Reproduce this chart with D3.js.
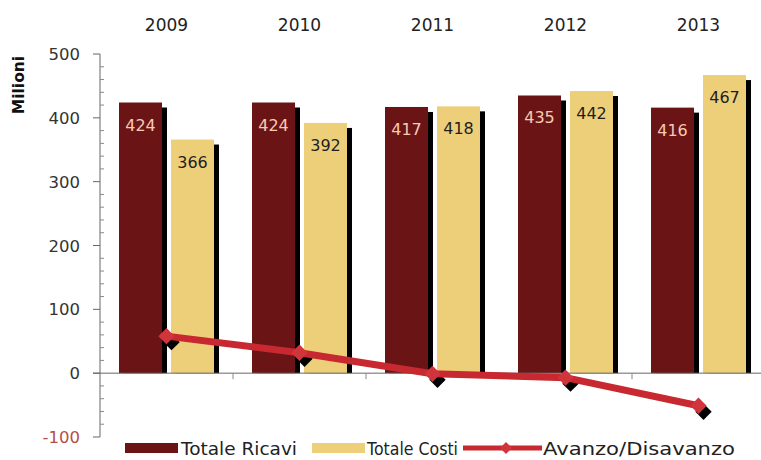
<!DOCTYPE html>
<html>
<head>
<meta charset="utf-8">
<script src="https://cdn.jsdelivr.net/npm/d3@7"></script>
<style>
  html, body { margin: 0; padding: 0; background: #fff; }
  svg { display: block; font-family: "DejaVu Sans", sans-serif; }
</style>
</head>
<body>
<svg id="chart" width="761" height="460"></svg>
<script>
// Revenue, costs and surplus/deficit per year (millions)
const years = ["2009", "2010", "2011", "2012", "2013"];
const ricavi = [424, 424, 417, 435, 416];
const costi = [366, 392, 418, 442, 467];
const avanzo = [58, 32, -1, -7, -51];
const yTicks = [-100, 0, 100, 200, 300, 400, 500];
const seriesNames = ["Totale Ricavi", "Totale Costi"];

const colRicavi = "#6b1416";
const colCosti = "#eecf79";
const colLine = "#c8282f";
const colMarker = "#d2343b";

const svg = d3.select("#chart");

const x0 = d3.scaleBand().domain(years).range([100, 765]);
const x1 = d3.scaleBand().domain(seriesNames).range([19, 114]).paddingInner(9 / 52);
const y = d3.scaleLinear().domain([-100, 500]).range([437, 54]);

// Y axis: major ticks to the left, minor ticks to the right
const axisG = svg.append("g");
axisG.append("line")
  .attr("x1", 100).attr("x2", 100)
  .attr("y1", y(500)).attr("y2", y(-100))
  .attr("stroke", "#666").attr("stroke-width", 1);
axisG.selectAll("line.major").data(yTicks).enter().append("line")
  .attr("class", "major")
  .attr("x1", 93).attr("x2", 100)
  .attr("y1", d => y(d)).attr("y2", d => y(d))
  .attr("stroke", "#666");
const minor = d3.range(-100, 501, 20).filter(v => v % 100 !== 0);
axisG.selectAll("line.minor").data(minor).enter().append("line")
  .attr("class", "minor")
  .attr("x1", 100).attr("x2", 104)
  .attr("y1", d => y(d)).attr("y2", d => y(d))
  .attr("stroke", "#888");
axisG.selectAll("text.tick").data(yTicks).enter().append("text")
  .attr("class", "tick")
  .attr("x", 80).attr("y", d => y(d) + 6)
  .attr("text-anchor", "end")
  .attr("font-size", 16.5)
  .attr("fill", d => d < 0 ? "#b4504a" : "#333")
  .text(d => d);

svg.append("text")
  .attr("transform", "translate(24,85) rotate(-90)")
  .attr("text-anchor", "middle")
  .attr("font-size", 15.5)
  .attr("font-weight", "bold")
  .attr("fill", "#111")
  .text("Milioni");

// Year labels above each group
svg.selectAll("text.year").data(years).enter().append("text")
  .attr("class", "year")
  .attr("x", d => x0(d) + x0.bandwidth() / 2)
  .attr("y", 31)
  .attr("text-anchor", "middle")
  .attr("font-size", 17)
  .attr("fill", "#222")
  .text(d => d);

// Bars with drop shadows
const rows = [];
years.forEach((yr, i) => {
  rows.push({ year: yr, s: seriesNames[0], v: ricavi[i], fill: colRicavi, label: "#f6cbb4" });
  rows.push({ year: yr, s: seriesNames[1], v: costi[i], fill: colCosti, label: "#1e1e1e" });
});
const bx = d => x0(d.year) + x1(d.s);

svg.append("g").selectAll("rect").data(rows).enter().append("rect")
  .attr("x", d => bx(d) + 5)
  .attr("y", d => y(d.v) + 5)
  .attr("width", x1.bandwidth())
  .attr("height", d => y(0) - y(d.v) - 5)
  .attr("fill", "#000");

svg.append("g").selectAll("rect").data(rows).enter().append("rect")
  .attr("x", d => bx(d))
  .attr("y", d => y(d.v))
  .attr("width", x1.bandwidth())
  .attr("height", d => y(0) - y(d.v))
  .attr("fill", d => d.fill);

svg.append("g").selectAll("text").data(rows).enter().append("text")
  .attr("x", d => bx(d) + x1.bandwidth() / 2)
  .attr("y", d => y(d.v) + 28)
  .attr("text-anchor", "middle")
  .attr("font-size", 16)
  .attr("fill", d => d.label)
  .text(d => d.v);

// Zero line with category separators
svg.append("line")
  .attr("x1", 93).attr("x2", 765)
  .attr("y1", y(0)).attr("y2", y(0))
  .attr("stroke", "#666");
svg.selectAll("line.sep").data(years.slice(1)).enter().append("line")
  .attr("class", "sep")
  .attr("x1", d => x0(d)).attr("x2", d => x0(d))
  .attr("y1", y(0)).attr("y2", y(0) + 6)
  .attr("stroke", "#888");

// Surplus / deficit line
const pts = years.map((yr, i) => [x0(yr) + x0.bandwidth() / 2, y(avanzo[i])]);
const diamond = d3.symbol().type(d3.symbolDiamond2).size(170);

svg.append("g").selectAll("path").data(pts).enter().append("path")
  .attr("d", diamond)
  .attr("transform", d => `translate(${d[0] + 5},${d[1] + 6})`)
  .attr("fill", "#000");

svg.append("path")
  .attr("d", d3.line()(pts))
  .attr("fill", "none")
  .attr("stroke", colLine)
  .attr("stroke-width", 7)
  .attr("stroke-linejoin", "round");

svg.append("g").selectAll("path").data(pts).enter().append("path")
  .attr("d", diamond)
  .attr("transform", d => `translate(${d[0]},${d[1]})`)
  .attr("fill", colMarker);

// Legend
const lg = svg.append("g");
lg.append("rect").attr("x", 125).attr("y", 443).attr("width", 53).attr("height", 10).attr("fill", colRicavi);
lg.append("text").attr("x", 181).attr("y", 455).attr("font-size", 17).attr("fill", "#222")
  .attr("textLength", 116).attr("lengthAdjust", "spacingAndGlyphs").text(seriesNames[0]);
lg.append("rect").attr("x", 312).attr("y", 443).attr("width", 53).attr("height", 10).attr("fill", colCosti);
lg.append("text").attr("x", 367).attr("y", 455).attr("font-size", 17).attr("fill", "#222")
  .attr("textLength", 91).attr("lengthAdjust", "spacingAndGlyphs").text(seriesNames[1]);
lg.append("line").attr("x1", 463).attr("x2", 542).attr("y1", 448).attr("y2", 448)
  .attr("stroke", colLine).attr("stroke-width", 5);
lg.append("path").attr("d", d3.symbol().type(d3.symbolDiamond2).size(90))
  .attr("transform", "translate(506,448)").attr("fill", colMarker);
lg.append("text").attr("x", 543).attr("y", 455).attr("font-size", 17).attr("fill", "#222")
  .attr("textLength", 192).attr("lengthAdjust", "spacingAndGlyphs").text("Avanzo/Disavanzo");
</script>
</body>
</html>
